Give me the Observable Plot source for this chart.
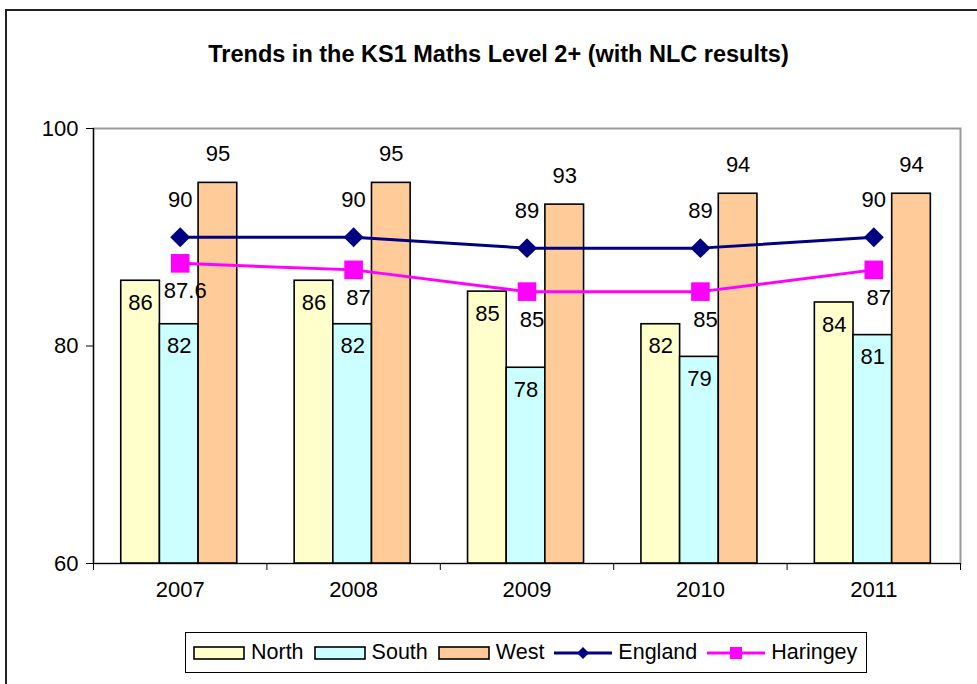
<!DOCTYPE html>
<html>
<head>
<meta charset="utf-8">
<script src="https://cdn.jsdelivr.net/npm/d3@7"></script>
<script src="https://cdn.jsdelivr.net/npm/@observablehq/plot@0.6"></script>
<style>
  html, body { margin: 0; padding: 0; background: #fff; }
  #wrap { position: relative; width: 977px; height: 684px; overflow: hidden; background: #fff;
          font-family: "Liberation Sans", Arial, sans-serif; }
  #border { position: absolute; left: 5px; top: 9px; width: 1100px; height: 800px; border: 2px solid #222; box-sizing: border-box; }
  #title { position: absolute; left: 0; width: 997px; top: 41px; text-align: center; font-weight: bold; font-size: 23.5px; color: #000; }
  #chart { position: absolute; left: 0; top: 0; }
  #legend { position: absolute; left: 185px; top: 632px; width: 682px; height: 41px; border: 1px solid #000; box-sizing: border-box;
            display: flex; align-items: center; justify-content: flex-start; padding-left: 7px; font-size: 21.5px; color: #000; background: #fff; }
  .item { display: flex; align-items: center; margin-right: 10px; }
  .item svg { margin-right: 6px; }
</style>
</head>
<body>
<div id="wrap">
  <div id="border"></div>
  <div id="chart"></div>
  <div id="title">Trends in the KS1 Maths Level 2+ (with NLC results)</div>
  <div id="legend"></div>
</div>
<script>
// ---- data ----
const years = ["2007", "2008", "2009", "2010", "2011"];
const north = [86, 86, 85, 82, 84];
const south = [82, 82, 78, 79, 81];
const west = [95, 95, 93, 94, 94];
const england = [90, 90, 89, 89, 90];
const haringey = [87.6, 87, 85, 85, 87];
const yTicks = [60, 80, 100];
const seriesNames = ["North", "South", "West"];
const lineNames = ["England", "Haringey"];

// ---- styles ----
const barColors = { North: "#FFFFCC", South: "#CCFFFF", West: "#FFCC99" };
const englandColor = "#000080";
const haringeyColor = "#FF00FF";
const fs = 22;

const seriesValues = [north, south, west];
const bars = seriesNames.flatMap((s, k) => years.map((yr, i) => ({ year: yr, i, k, series: s, value: seriesValues[k][i] })));
const lineRows = years.map((yr, i) => ({ year: yr, i, england: england[i], haringey: haringey[i] }));

const groupStart = 0.16, barW = 0.223;
const bx1 = d => d.i + groupStart + d.k * barW;
const bx2 = d => d.i + groupStart + (d.k + 1) * barW;
const bxc = d => d.i + groupStart + (d.k + 0.5) * barW;
const lx = d => d.i + 0.5;

const chart = Plot.plot({
  width: 977,
  height: 625,
  marginLeft: 93,
  marginRight: 17,
  marginTop: 128,
  marginBottom: 62,
  style: { fontFamily: "Liberation Sans, Arial, sans-serif", fontSize: fs + "px", background: "transparent", color: "#000", overflow: "visible" },
  x: { domain: [0, years.length] },
  y: { domain: [yTicks[0], yTicks[yTicks.length - 1]], label: null },
  marks: [
    Plot.frame({ stroke: "#999", strokeWidth: 2 }),
    ...seriesNames.map(s => Plot.rect(bars.filter(d => d.series === s), {
      x1: bx1, x2: bx2, y1: yTicks[0], y2: "value", fill: barColors[s], stroke: "#000", strokeWidth: 1.6
    })),
    Plot.ruleX([0], { stroke: "#000", strokeWidth: 1.2 }),
    Plot.ruleY([yTicks[0]], { stroke: "#000", strokeWidth: 1.2 }),
    Plot.axisY({ ticks: yTicks, tickSize: 7, tickPadding: 8, label: null, fontSize: fs }),
    Plot.axisX({ ticks: d3.range(0, years.length + 1), tickFormat: () => "", tickSize: 7, label: null }),
    Plot.axisX({ ticks: years.map((_, i) => i + 0.5), tickFormat: d => years[Math.round(d - 0.5)], tickSize: 0, tickPadding: 18, label: null, fontSize: fs }),
    Plot.line(lineRows, { x: lx, y: "england", stroke: englandColor, strokeWidth: 3 }),
    Plot.line(lineRows, { x: lx, y: "haringey", stroke: haringeyColor, strokeWidth: 3 }),
    Plot.dot(lineRows, { x: lx, y: "england", symbol: "diamond2", r: 9, fill: englandColor, stroke: "none" }),
    Plot.dot(lineRows, { x: lx, y: "haringey", symbol: "square", r: 10.5, fill: haringeyColor, stroke: "none" }),
    Plot.text(bars.filter(d => d.series !== "West"), { x: bxc, y: "value", text: d => String(d.value), dy: 22, fontSize: fs, fill: "#000" }),
    Plot.text(bars.filter(d => d.series === "West"), { x: bxc, y: "value", text: d => String(d.value), dy: -29, fontSize: fs, fill: "#000" }),
    Plot.text(lineRows, { x: lx, y: "england", text: d => String(d.england), dy: -37, fontSize: fs, fill: "#000" }),
    Plot.text(lineRows, { x: lx, y: "haringey", text: d => String(d.haringey), dx: 5, dy: 28, fontSize: fs, fill: "#000" })
  ]
});
document.getElementById("chart").appendChild(chart);

// ---- legend ----
const legend = document.getElementById("legend");
function swatchRect(color) {
  return `<svg width="52" height="16"><rect x="1" y="2" width="50" height="12" fill="${color}" stroke="#000" stroke-width="1.6"/></svg>`;
}
function swatchLine(color, sym) {
  const marker = sym === "diamond"
    ? `<path d="M29,3 L35,9 L29,15 L23,9 Z" fill="${color}"/>`
    : `<rect x="23" y="3" width="12" height="12" fill="${color}"/>`;
  return `<svg width="58" height="18"><line x1="0" y1="9" x2="58" y2="9" stroke="${color}" stroke-width="3"/>${marker}</svg>`;
}
const items = [
  ...seriesNames.map(s => ({ name: s, html: swatchRect(barColors[s]) })),
  { name: lineNames[0], html: swatchLine(englandColor, "diamond") },
  { name: lineNames[1], html: swatchLine(haringeyColor, "square") }
];
legend.innerHTML = items.map(it => `<div class="item">${it.html}<span>${it.name}</span></div>`).join("");
</script>
</body>
</html>
